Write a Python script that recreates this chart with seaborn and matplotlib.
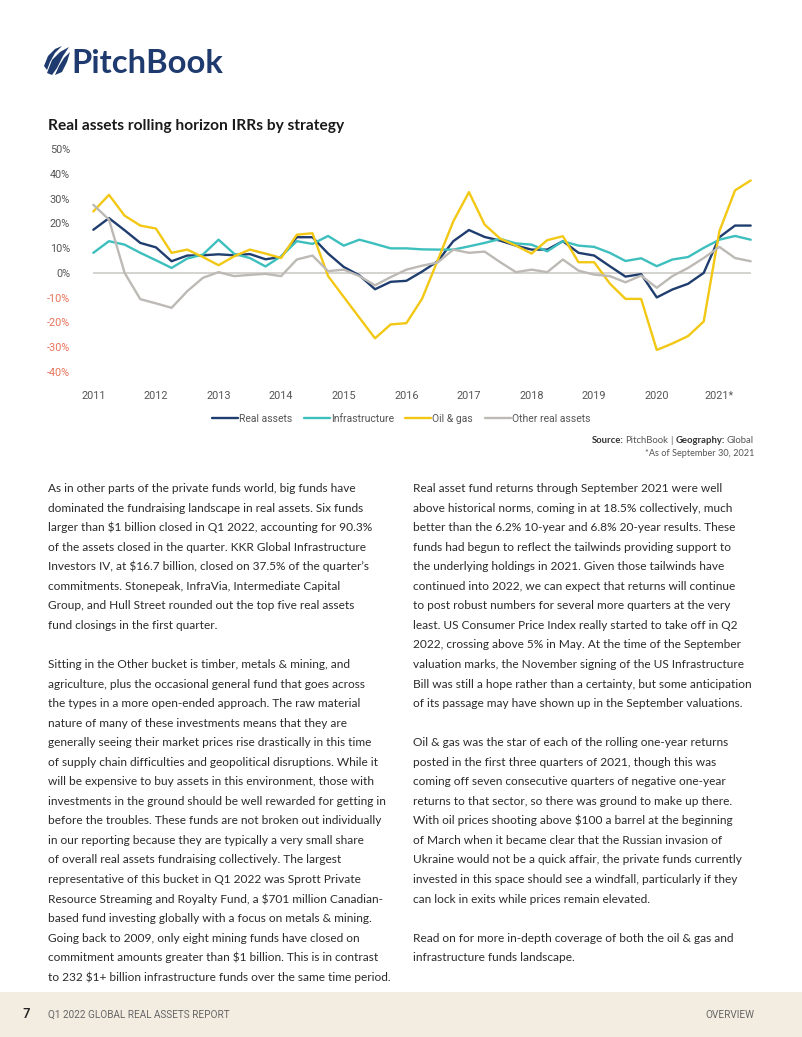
import numpy as np
import pandas as pd
import seaborn as sns
import matplotlib.pyplot as plt
from matplotlib import font_manager
from matplotlib.patches import Polygon, Rectangle

# chart data (rolling one-year horizon IRR, %), quarterly 2011 Q1 .. 2021 Q3
years = ['2011', '2012', '2013', '2014', '2015', '2016', '2017', '2018', '2019', '2020', '2021*']
series_names = ['Real assets', 'Infrastructure', 'Oil & gas', 'Other real assets']
real_assets = [17.4, 22.1, 17.2, 12.1, 10.3, 4.7, 7.0, 7.1, 7.5, 7.1, 7.6, 5.5, 6.4, 14.4, 14.4,
               7.8, 2.4, -1.0, -6.6, -3.6, -3.2, 0.5, 4.7, 12.8, 17.3, 14.5, 13.0, 11.0, 9.4, 9.4,
               12.8, 8.1, 7.0, 2.7, -1.5, -0.5, -9.9, -6.7, -4.4, 0.0, 14.4, 19.1, 19.1]
infrastructure = [8.1, 12.8, 11.4, 8.1, 5.1, 2.0, 5.8, 7.4, 13.4, 7.7, 6.0, 2.6, 6.7, 12.8, 11.7,
                  14.9, 11.0, 13.4, 11.7, 9.9, 9.9, 9.5, 9.4, 9.4, 10.7, 12.1, 13.7, 11.9, 11.4, 8.7,
                  12.8, 11.0, 10.5, 8.1, 4.8, 5.9, 2.7, 5.4, 6.4, 10.1, 13.4, 14.9, 13.4]
oil_gas = [24.8, 31.5, 23.1, 19.1, 17.9, 8.1, 9.4, 6.4, 3.1, 6.7, 9.4, 7.8, 6.0, 15.4, 16.0,
           -1.3, -9.7, -18.1, -26.4, -20.8, -20.3, -10.5, 5.0, 20.8, 32.6, 19.5, 13.8, 11.0, 7.8, 13.2,
           14.8, 4.3, 4.3, -4.3, -10.5, -10.5, -31.1, -28.5, -25.5, -19.6, 16.8, 33.3, 37.3]
other_real = [27.5, 21.5, 0.0, -10.6, -12.3, -14.1, -7.4, -2.0, 0.3, -1.3, -0.8, -0.4, -1.3, 5.4, 7.0,
              0.7, 1.3, -1.3, -5.0, -1.7, 1.3, 2.9, 4.2, 9.4, 8.1, 8.6, 4.3, 0.3, 1.3, 0.3,
              5.4, 0.9, -0.7, -1.3, -3.8, -1.1, -6.0, -1.3, 2.0, 6.0, 10.5, 6.0, 4.7]
palette = ['#1f3d6e', '#3dbfbe', '#f2c814', '#bdbab5']

left_col = [
    "As in other parts of the private funds world, big funds have",
    "dominated the fundraising landscape in real assets. Six funds",
    "larger than $1 billion closed in Q1 2022, accounting for 90.3%",
    "of the assets closed in the quarter. KKR Global Infrastructure",
    "Investors IV, at $16.7 billion, closed on 37.5% of the quarter\u2019s",
    "commitments. Stonepeak, InfraVia, Intermediate Capital",
    "Group, and Hull Street rounded out the top five real assets",
    "fund closings in the first quarter.",
    "",
    "Sitting in the Other bucket is timber, metals & mining, and",
    "agriculture, plus the occasional general fund that goes across",
    "the types in a more open-ended approach. The raw material",
    "nature of many of these investments means that they are",
    "generally seeing their market prices rise drastically in this time",
    "of supply chain difficulties and geopolitical disruptions. While it",
    "will be expensive to buy assets in this environment, those with",
    "investments in the ground should be well rewarded for getting in",
    "before the troubles. These funds are not broken out individually",
    "in our reporting because they are typically a very small share",
    "of overall real assets fundraising collectively. The largest",
    "representative of this bucket in Q1 2022 was Sprott Private",
    "Resource Streaming and Royalty Fund, a $701 million Canadian-",
    "based fund investing globally with a focus on metals & mining.",
    "Going back to 2009, only eight mining funds have closed on",
    "commitment amounts greater than $1 billion. This is in contrast",
    "to 232 $1+ billion infrastructure funds over the same time period.",
]
right_col = [
    "Real asset fund returns through September 2021 were well",
    "above historical norms, coming in at 18.5% collectively, much",
    "better than the 6.2% 10-year and 6.8% 20-year results. These",
    "funds had begun to reflect the tailwinds providing support to",
    "the underlying holdings in 2021. Given those tailwinds have",
    "continued into 2022, we can expect that returns will continue",
    "to post robust numbers for several more quarters at the very",
    "least. US Consumer Price Index really started to take off in Q2",
    "2022, crossing above 5% in May. At the time of the September",
    "valuation marks, the November signing of the US Infrastructure",
    "Bill was still a hope rather than a certainty, but some anticipation",
    "of its passage may have shown up in the September valuations.",
    "",
    "Oil & gas was the star of each of the rolling one-year returns",
    "posted in the first three quarters of 2021, though this was",
    "coming off seven consecutive quarters of negative one-year",
    "returns to that sector, so there was ground to make up there.",
    "With oil prices shooting above $100 a barrel at the beginning",
    "of March when it became clear that the Russian invasion of",
    "Ukraine would not be a quick affair, the private funds currently",
    "invested in this space should see a windfall, particularly if they",
    "can lock in exits while prices remain elevated.",
    "",
    "Read on for more in-depth coverage of both the oil & gas and",
    "infrastructure funds landscape.",
]


def pick_font(names):
    for n in names:
        try:
            font_manager.findfont(font_manager.FontProperties(family=n), fallback_to_default=False)
            return n
        except ValueError:
            pass
    return 'DejaVu Sans'


sns.set_theme(style='white')
body_font = pick_font(['Lato', 'Open Sans'])
cond_font = pick_font(['Liberation Sans Narrow', 'Roboto'])
plt.rcParams['font.family'] = [body_font, 'DejaVu Sans']

W, H = 802, 1037
fig = plt.figure(figsize=(W / 100, H / 100), dpi=100)
fig.patch.set_facecolor('white')


def fx(x):
    return x / W


def fy(y):
    return 1 - y / H


# logo
navy = '#1e3a6e'
for pts in ([(47, 73), (52, 60), (60, 52), (69, 47), (63, 56), (57, 68), (52, 75)],
            [(55, 75), (59, 66), (64, 58), (70, 52), (67, 62), (62, 72)],
            [(44, 66), (48, 56), (55, 49), (62, 46), (55, 53), (50, 62), (47, 70)]):
    fig.patches.append(Polygon([(fx(a), fy(b)) for a, b in pts], closed=True,
                               transform=fig.transFigure, facecolor=navy, edgecolor='none'))
fig.text(fx(71), fy(73), 'PitchBook', fontsize=23.6, fontweight='bold', color=navy,
         ha='left', va='baseline')

# chart title
fig.text(fx(48), fy(130), 'Real assets rolling horizon IRRs by strategy', fontsize=11.2,
         fontweight='bold', color='#1a1a1a', ha='left', va='baseline')

# chart
n = len(real_assets)
df = pd.DataFrame({'q': np.arange(n), 'Real assets': real_assets, 'Infrastructure': infrastructure,
                   'Oil & gas': oil_gas, 'Other real assets': other_real})
df = df.melt(id_vars='q', var_name='series', value_name='irr')

ax = fig.add_axes([fx(85.5), fy(372), 673 / W, 223 / H])
ax.hlines(0, 0, n - 1, color='#c9c7c4', linewidth=1.1, zorder=1)
sns.lineplot(data=df, x='q', y='irr', hue='series', hue_order=series_names, palette=palette,
             linewidth=1.7, ax=ax, zorder=3)
ax.set_xlim(-0.5, n - 0.5)
ax.set_ylim(-40, 50)
yt = list(range(-40, 51, 10))
ax.set_yticks(yt)
ax.set_yticklabels([f'{v}%' for v in yt], fontfamily=cond_font, fontsize=7.8)
for lab, v in zip(ax.get_yticklabels(), yt):
    lab.set_color('#e8735a' if v < 0 else '#555555')
ax.set_xticks(np.arange(0, n, 4))
ax.set_xticklabels(years, fontfamily=cond_font, fontsize=7.8, color='#555555')
ax.tick_params(axis='y', length=0, pad=11)
ax.tick_params(axis='x', length=0, pad=14)
ax.set_xlabel('')
ax.set_ylabel('')
sns.despine(ax=ax, left=True, bottom=True)
handles, labels = ax.get_legend_handles_labels()
for h in handles:
    h.set_linewidth(1.7)
ax.legend(handles, labels, loc='center', bbox_to_anchor=((401 - 85.5) / 673, -0.21), ncol=4,
          frameon=False, handlelength=2.5, handletextpad=0.1, columnspacing=1.1,
          prop={'family': cond_font, 'size': 7.5}, labelcolor='#555555')

# source note
renderer = fig.canvas.get_renderer()
x = 754
for txt, bold, gap in [('Global', False, 2), ('Geography:', True, 3), ('|', False, 2),
                       ('PitchBook', False, 2), ('Source:', True, 0)]:
    t = fig.text(fx(x), fy(443), txt, fontsize=6.8, fontweight='bold' if bold else 'normal',
                 color='#333333' if bold else '#555555', ha='right', va='baseline')
    w = t.get_window_extent(renderer).width
    x -= w + gap
fig.text(fx(754), fy(456), '*As of September 30, 2021', fontsize=6.6, color='#555555',
         ha='right', va='baseline')

# body text columns
for col, x0 in ((left_col, 48), (right_col, 413)):
    for i, line in enumerate(col):
        if line:
            fig.text(fx(x0), fy(492 + 19.55 * i), line, fontsize=8.55, color='#2b2b2b',
                     ha='left', va='baseline')

# footer band
fig.patches.append(Rectangle((0, 0), 1, (H - 992) / H, transform=fig.transFigure,
                             facecolor='#f2ece1', edgecolor='none'))
fig.text(fx(22), fy(1018), '7', fontsize=9, fontweight='bold', color='#222222',
         ha='left', va='baseline')
fig.text(fx(48), fy(1018), 'Q1 2022 GLOBAL REAL ASSETS REPORT', fontfamily=cond_font,
         fontsize=7.2, color='#666666', ha='left', va='baseline')
fig.text(fx(754), fy(1018), 'OVERVIEW', fontfamily=cond_font, fontsize=7.2, color='#666666',
         ha='right', va='baseline')

fig.savefig('out.png', dpi=100, facecolor='white')
